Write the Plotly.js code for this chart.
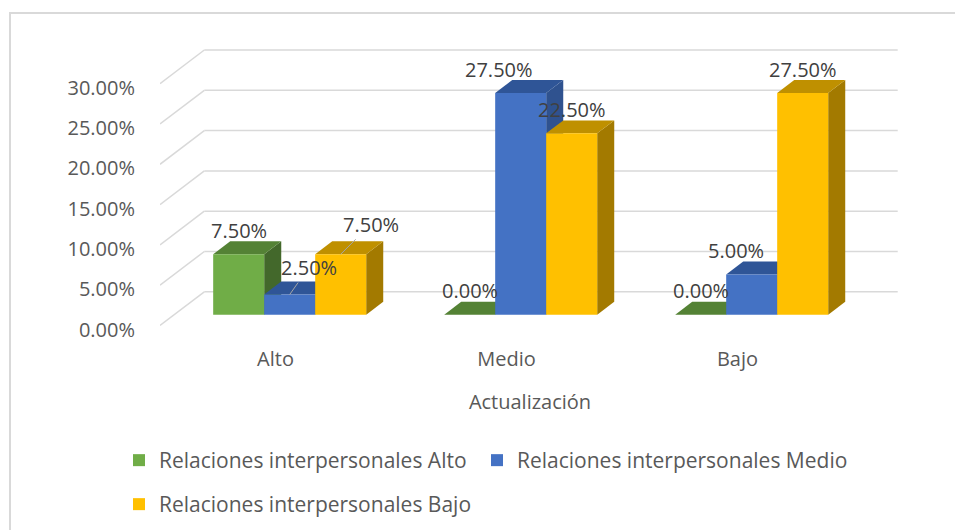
<!DOCTYPE html>
<html><head><meta charset="utf-8">
<script src="https://cdn.plot.ly/plotly-3.0.1.min.js"></script>
<style>html,body{margin:0;padding:0;background:#fff}#chart{width:955px;height:530px}</style>
</head><body><div id="chart"></div>
<script>
// ---- data ----
const categories = ['Alto', 'Medio', 'Bajo'];
const seriesNames = ['Relaciones interpersonales Alto', 'Relaciones interpersonales Medio', 'Relaciones interpersonales Bajo'];
const serieAlto = [0.075, 0.0, 0.0];
const serieMedio = [0.025, 0.275, 0.05];
const serieBajo = [0.075, 0.225, 0.275];
const yTickVals = [0, 0.05, 0.10, 0.15, 0.20, 0.25, 0.30];
const xTitle = 'Actualización';

// ---- style ----
const series = [serieAlto, serieMedio, serieBajo];
const faceColors = ['#70AD47', '#4472C4', '#FFC000'];
const topColors = ['#548235', '#2F5597', '#BF9000'];
const sideColors = ['#43682B', '#2F528F', '#A37A00'];
const FONT = 'Open Sans, Noto Sans, sans-serif';
const txt = '#404040';

// plot geometry (pixels)
const PL = 160, PT = 40, PW = 740, PH = 290;
const pxPerCat = 231, pxPerUnit = 806, floorY = 325.5;
const xMin = -0.5, xMax = -0.5 + PW / pxPerCat;
const yMin = (floorY - (PT + PH)) / pxPerUnit, yMax = (floorY - PT) / pxPerUnit;
const dxD = 44.3 / pxPerCat, dyD = 33.7 / pxPerUnit;   // full depth of the floor
const z0 = 0.32, zb = 0.385;                            // bar front position and depth
const barW = 51 / pxPerCat;
const backRight = -0.5 + (897.7 - PL) / pxPerCat;

const xIdx = categories.map((c, i) => i);
const baseV = z0 * dyD;
const legendIds = ['legend', 'legend2', 'legend3'];

const traces = series.map((vals, s) => ({
  type: 'bar', name: seriesNames[s],
  x: xIdx.map(i => i + z0 * dxD), y: vals, base: baseV,
  width: barW, offset: (s - 1.5) * barW,
  marker: { color: faceColors[s], line: { width: 0 } },
  legend: legendIds[s],
  hoverinfo: 'skip'
}));

const shapes = [];
// gridlines (floor side + back wall)
yTickVals.forEach(t => {
  shapes.push({ type: 'line', layer: 'below', xref: 'x', yref: 'y', x0: xMin, y0: t, x1: xMin + dxD, y1: t + dyD, line: { color: '#D9D9D9', width: 1.5 } });
  shapes.push({ type: 'line', layer: 'below', xref: 'x', yref: 'y', x0: xMin + dxD, y0: t + dyD, x1: backRight, y1: t + dyD, line: { color: '#D9D9D9', width: 1.5 } });
});
// 3D faces
const dx = zb * dxD, dy = zb * dyD;
xIdx.forEach(c => {
  series.forEach((vals, s) => {
    const v = vals[c];
    const xl = c + z0 * dxD + (s - 1.5) * barW, xr = xl + barW;
    const b = baseV, tp = baseV + v;
    if (v > 0) {
      shapes.push({ type: 'path', layer: 'below', xref: 'x', yref: 'y', fillcolor: sideColors[s], line: { width: 0 },
        path: `M${xr},${b}L${xr + dx},${b + dy}L${xr + dx},${tp + dy}L${xr},${tp}Z` });
    }
    shapes.push({ type: 'path', layer: 'below', xref: 'x', yref: 'y', fillcolor: topColors[s], line: { width: 0 },
      path: `M${xl},${tp}L${xr},${tp}L${xr + dx},${tp + dy}L${xl + dx},${tp + dy}Z` });
  });
});
// chart border
shapes.push({ type: 'rect', xref: 'paper', yref: 'paper', x0: (10 - PL) / PW, x1: (970 - PL) / PW, y0: (PT + PH - 545) / PH, y1: (PT + PH - 13) / PH, line: { color: '#D9D9D9', width: 2 }, fillcolor: 'rgba(0,0,0,0)' });

// data labels
const labelNudge = { '1-0': { ax: 19, ay: -27 }, '2-0': { ax: 30, ay: -30 }, '1-1': { xshift: -22 }, '1-2': { xshift: -16 } };
const annotations = [];
series.forEach((vals, s) => {
  vals.forEach((v, c) => {
    const xc = c + z0 * dxD + (s - 1) * barW;
    const n = labelNudge[s + '-' + c] || {};
    const a = { xref: 'x', yref: 'y', x: xc, y: baseV + v, text: (v * 100).toFixed(2) + '%',
      font: { family: FONT, size: 20, color: txt } };
    if (n.ax !== undefined) {
      Object.assign(a, { showarrow: true, arrowhead: 0, arrowwidth: 1, arrowcolor: '#A6A6A6', ax: n.ax, ay: n.ay, standoff: 0 });
    } else {
      Object.assign(a, { showarrow: false, yanchor: 'middle', yshift: 24, xshift: n.xshift || 0 });
    }
    annotations.push(a);
  });
});

const legFont = { family: FONT, size: 21, color: '#595959' };
const legPos = [[119, 440], [477, 440], [119, 484]];   // pixel left/top of each legend box
const layout = {
  width: 955, height: 530,
  margin: { l: PL, t: PT, r: 955 - PL - PW, b: 530 - PT - PH, pad: 0, autoexpand: false },
  paper_bgcolor: '#fff', plot_bgcolor: 'rgba(0,0,0,0)',
  barmode: 'overlay',
  font: { family: FONT, size: 20, color: txt },
  xaxis: { range: [xMin, xMax], tickvals: xIdx, ticktext: categories, showgrid: false, zeroline: false, showline: false,
    ticks: 'outside', ticklen: 11, tickcolor: 'rgba(0,0,0,0)', tickfont: { family: FONT, size: 20, color: '#595959' },
    title: { text: xTitle, font: { family: FONT, size: 20, color: '#595959' }, standoff: 23 }, fixedrange: true, automargin: false },
  yaxis: { range: [yMin, yMax], tickvals: yTickVals, tickformat: '.2%', showgrid: false, zeroline: false, showline: false,
    ticks: 'outside', ticklen: 20, tickcolor: 'rgba(0,0,0,0)', tickfont: { family: FONT, size: 20, color: '#595959' },
    ticklabelshift: 4, fixedrange: true, automargin: false },
  showlegend: true,
  shapes: shapes, annotations: annotations
};
legendIds.forEach((id, s) => {
  layout[id] = { orientation: 'h', x: (legPos[s][0] - PL) / PW, xanchor: 'left', y: (PT + PH - legPos[s][1]) / PH, yanchor: 'top',
    font: legFont, bgcolor: 'rgba(0,0,0,0)' };
});

Plotly.newPlot('chart', traces, layout, { displayModeBar: false, staticPlot: true });
</script></body></html>
